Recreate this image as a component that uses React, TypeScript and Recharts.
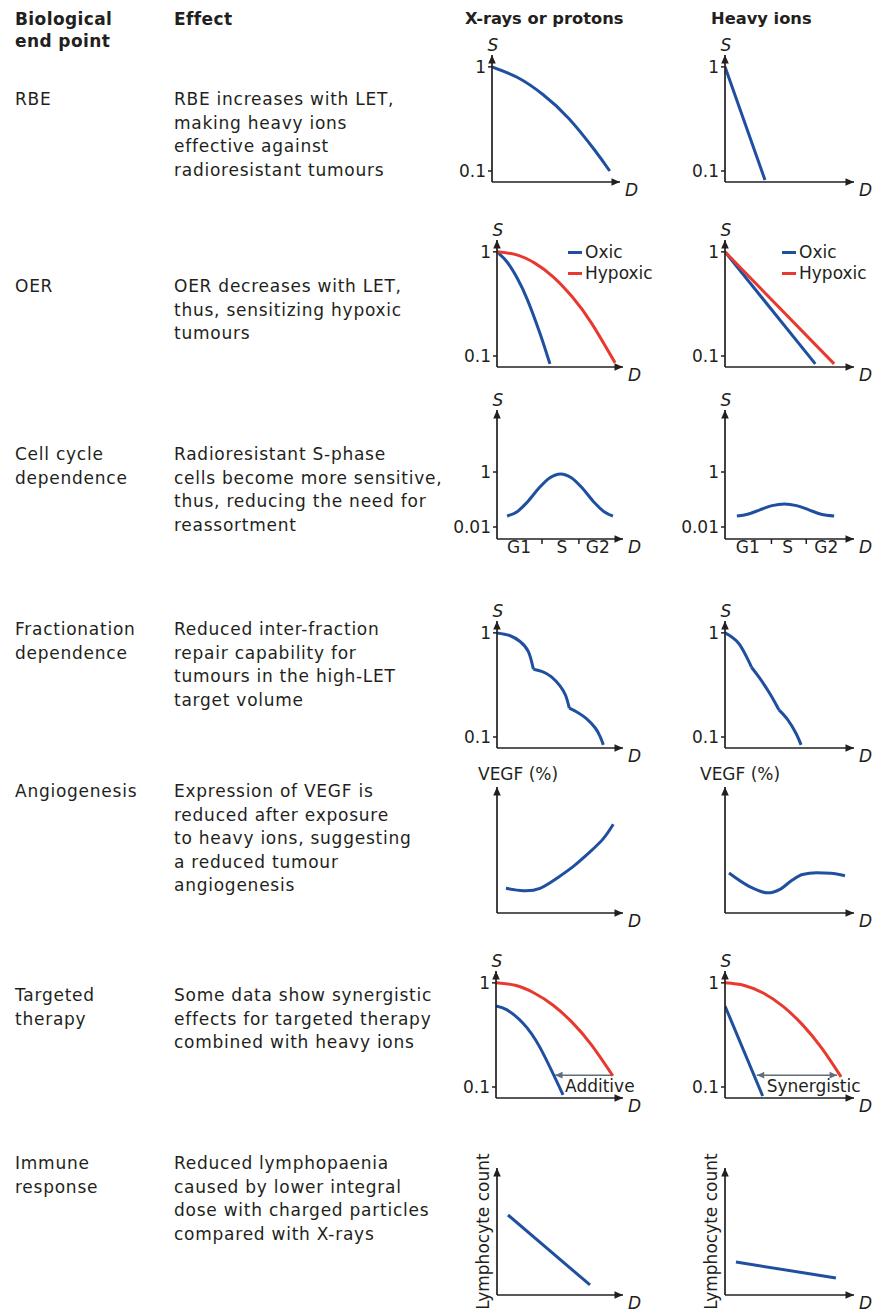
import React from 'react';
import { LineChart, Line, XAxis, YAxis, ReferenceDot, ReferenceLine, Legend } from 'recharts';

const INK = '#231f20';
const BLUE = '#1f4f9f';
const RED = '#e8392f';
const SLATE = '#5e6f7b';
const FONT = '"DejaVu Sans", Verdana, sans-serif';

// x = dose on a 0..10 axis (10 = arrow tip), s = surviving fraction / relative value
const rbeXray = [{ x: 0, s: 1 }, { x: 2, s: 0.79 }, { x: 4, s: 0.54 }, { x: 6, s: 0.32 }, { x: 8, s: 0.16 }, { x: 9.2, s: 0.1 }];
const rbeIon = [{ x: 0, s: 1 }, { x: 3.1, s: 0.082 }];

const oerXrayOxic = [{ x: 0, s: 1 }, { x: 0.8, s: 0.8 }, { x: 1.6, s: 0.56 }, { x: 2.4, s: 0.35 }, { x: 3.4, s: 0.166 }, { x: 4.2, s: 0.084 }];
const oerXrayHypoxic = [{ x: 0, s: 1 }, { x: 1.5, s: 0.94 }, { x: 3, s: 0.78 }, { x: 4.5, s: 0.57 }, { x: 6, s: 0.366 }, { x: 7.5, s: 0.207 }, { x: 9.37, s: 0.086 }];
const oerIonOxic = [{ x: 0, s: 1 }, { x: 7.0, s: 0.084 }];
const oerIonHypoxic = [{ x: 0, s: 1 }, { x: 8.46, s: 0.084 }];

const cellXray = [
  { x: 0.8, s: 0.025 }, { x: 1.6, s: 0.036 }, { x: 2.4, s: 0.08 }, { x: 3.3, s: 0.25 }, { x: 4.2, s: 0.62 },
  { x: 5.05, s: 0.85 }, { x: 5.9, s: 0.62 }, { x: 6.8, s: 0.25 }, { x: 7.7, s: 0.08 }, { x: 8.5, s: 0.036 }, { x: 9.2, s: 0.025 },
];
const cellIon = [
  { x: 0.92, s: 0.025 }, { x: 1.75, s: 0.029 }, { x: 2.7, s: 0.042 }, { x: 3.65, s: 0.06 }, { x: 4.6, s: 0.069 },
  { x: 5.55, s: 0.06 }, { x: 6.5, s: 0.042 }, { x: 7.45, s: 0.029 }, { x: 8.46, s: 0.025 },
];
const phaseNames = ['G1', 'S', 'G2'];
const xrayPhaseCentres = [1.75, 5.15, 8.0];
const xrayPhaseBounds = [3.57, 6.5];
const ionPhaseCentres = [1.77, 4.85, 7.85];
const ionPhaseBounds = [3.6, 6.3];

// fractionated survival: one scallop per fraction
const fracXray1 = [{ x: 0, s: 1 }, { x: 1.0, s: 0.944 }, { x: 1.83, s: 0.826 }, { x: 2.49, s: 0.66 }, { x: 2.89, s: 0.447 }];
const fracXray2 = [{ x: 2.89, s: 0.447 }, { x: 3.6, s: 0.425 }, { x: 4.3, s: 0.38 }, { x: 5.0, s: 0.31 }, { x: 5.45, s: 0.25 }, { x: 5.74, s: 0.189 }];
const fracXray3 = [{ x: 5.74, s: 0.189 }, { x: 6.4, s: 0.172 }, { x: 7.1, s: 0.15 }, { x: 7.8, s: 0.122 }, { x: 8.2, s: 0.1 }, { x: 8.44, s: 0.084 }];
const fracIon1 = [{ x: 0, s: 1 }, { x: 0.6, s: 0.9 }, { x: 1.15, s: 0.767 }, { x: 1.79, s: 0.55 }, { x: 2.05, s: 0.468 }];
const fracIon2 = [{ x: 2.05, s: 0.468 }, { x: 2.69, s: 0.367 }, { x: 3.46, s: 0.263 }, { x: 3.97, s: 0.204 }, { x: 4.18, s: 0.182 }];
const fracIon3 = [{ x: 4.18, s: 0.182 }, { x: 4.87, s: 0.146 }, { x: 5.51, s: 0.108 }, { x: 5.9, s: 0.084 }];

const vegfXray = [{ x: 0.71, s: 1.96 }, { x: 2.09, s: 1.77 }, { x: 3.41, s: 1.96 }, { x: 4.74, s: 2.75 }, { x: 6.06, s: 3.7 }, { x: 7.38, s: 4.85 }, { x: 8.44, s: 5.9 }, { x: 9.23, s: 7.04 }];
const vegfIon = [{ x: 0.31, s: 3.17 }, { x: 1.9, s: 2.1 }, { x: 3.3, s: 1.6 }, { x: 4.3, s: 1.9 }, { x: 5.2, s: 2.6 }, { x: 6.0, s: 3.05 }, { x: 7.1, s: 3.2 }, { x: 8.2, s: 3.15 }, { x: 9.3, s: 2.95 }];

const targXrayAlone = [{ x: 0, s: 1 }, { x: 1.5, s: 0.947 }, { x: 3, s: 0.8 }, { x: 4.5, s: 0.61 }, { x: 6, s: 0.417 }, { x: 7.5, s: 0.255 }, { x: 9.2, s: 0.128 }];
const targXrayDrug = [{ x: 0, s: 0.6 }, { x: 0.87, s: 0.55 }, { x: 2.13, s: 0.41 }, { x: 3.46, s: 0.24 }, { x: 5.28, s: 0.084 }];
const targIonAlone = [{ x: 0, s: 1 }, { x: 1.5, s: 0.944 }, { x: 3, s: 0.794 }, { x: 4.5, s: 0.594 }, { x: 6, s: 0.397 }, { x: 7.5, s: 0.236 }, { x: 9.0, s: 0.125 }];
const targIonDrug = [{ x: 0, s: 0.6 }, { x: 2.92, s: 0.082 }];

const lymphoXray = [{ x: 0.87, s: 6.3 }, { x: 7.38, s: 0.79 }];
const lymphoIon = [{ x: 0.85, s: 2.6 }, { x: 8.6, s: 1.34 }];

const survivalDomain: [number, number] = [0.0784, 1.3];
const survivalTicks = [0.1, 1];
const cellDomain: [number, number] = [0.00366, 180];
const cellTicks = [0.01, 1];
const linearDomain: [number, number] = [0, 10];

const endPoints = [['RBE'], ['OER'], ['Cell cycle', 'dependence'], ['Fractionation', 'dependence'], ['Angiogenesis'], ['Targeted', 'therapy'], ['Immune', 'response']];
const effects = [
  ['RBE increases with LET,', 'making heavy ions', 'effective against', 'radioresistant tumours'],
  ['OER decreases with LET,', 'thus, sensitizing hypoxic', 'tumours'],
  ['Radioresistant S-phase', 'cells become more sensitive,', 'thus, reducing the need for', 'reassortment'],
  ['Reduced inter-fraction', 'repair capability for', 'tumours in the high-LET', 'target volume'],
  ['Expression of VEGF is', 'reduced after exposure', 'to heavy ions, suggesting', 'a reduced tumour', 'angiogenesis'],
  ['Some data show synergistic', 'effects for targeted therapy', 'combined with heavy ions'],
  ['Reduced lymphopaenia', 'caused by lower integral', 'dose with charged particles', 'compared with X-rays'],
];
const rowBaselines = [106, 293, 461, 636, 798, 1002, 1170];

type Pt = { x: number; s: number };
type Curve = { name: string; color: string; data: Pt[]; kind?: 'natural' | 'monotone' };
type ChartSpec = {
  x0: number; x1: number; yTop: number; yBot: number;
  log: boolean; domain: [number, number]; yTicks?: number[];
  curves: Curve[];
  topLabel?: string; topDx?: number;
  sideLabel?: string;
  phases?: { centres: number[]; bounds: number[] };
  legendAt?: { left: number; top: number };
  span?: { from: number; to: number; s: number; label: string; bothHeads: boolean };
};

const charts: ChartSpec[] = [
  { x0: 492, x1: 620, yTop: 55, yBot: 182, log: true, domain: survivalDomain, yTicks: survivalTicks, topLabel: 'S', curves: [{ name: 'X-rays', color: BLUE, data: rbeXray }] },
  { x0: 725, x1: 854, yTop: 55, yBot: 182, log: true, domain: survivalDomain, yTicks: survivalTicks, topLabel: 'S', curves: [{ name: 'Heavy ions', color: BLUE, data: rbeIon }] },
  { x0: 497, x1: 623, yTop: 240, yBot: 367, log: true, domain: survivalDomain, yTicks: survivalTicks, topLabel: 'S', legendAt: { left: 131, top: 31.5 },
    curves: [{ name: 'Oxic', color: BLUE, data: oerXrayOxic }, { name: 'Hypoxic', color: RED, data: oerXrayHypoxic }] },
  { x0: 725, x1: 854, yTop: 240, yBot: 367, log: true, domain: survivalDomain, yTicks: survivalTicks, topLabel: 'S', legendAt: { left: 117, top: 31.5 },
    curves: [{ name: 'Oxic', color: BLUE, data: oerIonOxic }, { name: 'Hypoxic', color: RED, data: oerIonHypoxic }] },
  { x0: 497, x1: 623, yTop: 410, yBot: 539, log: true, domain: cellDomain, yTicks: cellTicks, topLabel: 'S', phases: { centres: xrayPhaseCentres, bounds: xrayPhaseBounds },
    curves: [{ name: 'X-rays', color: BLUE, data: cellXray, kind: 'monotone' }] },
  { x0: 725, x1: 854, yTop: 410, yBot: 539, log: true, domain: cellDomain, yTicks: cellTicks, topLabel: 'S', phases: { centres: ionPhaseCentres, bounds: ionPhaseBounds },
    curves: [{ name: 'Heavy ions', color: BLUE, data: cellIon, kind: 'monotone' }] },
  { x0: 497, x1: 623, yTop: 621, yBot: 748, log: true, domain: survivalDomain, yTicks: survivalTicks, topLabel: 'S',
    curves: [
      { name: 'Fraction 1', color: BLUE, data: fracXray1 },
      { name: 'Fraction 2', color: BLUE, data: fracXray2 },
      { name: 'Fraction 3', color: BLUE, data: fracXray3 },
    ] },
  { x0: 725, x1: 854, yTop: 621, yBot: 748, log: true, domain: survivalDomain, yTicks: survivalTicks, topLabel: 'S',
    curves: [
      { name: 'Fraction 1', color: BLUE, data: fracIon1 },
      { name: 'Fraction 2', color: BLUE, data: fracIon2 },
      { name: 'Fraction 3', color: BLUE, data: fracIon3 },
    ] },
  { x0: 497, x1: 623, yTop: 787, yBot: 913, log: false, domain: linearDomain, topLabel: 'VEGF (%)', topDx: -19, curves: [{ name: 'X-rays', color: BLUE, data: vegfXray }] },
  { x0: 725, x1: 854, yTop: 787, yBot: 913, log: false, domain: linearDomain, topLabel: 'VEGF (%)', topDx: -25, curves: [{ name: 'Heavy ions', color: BLUE, data: vegfIon, kind: 'monotone' }] },
  { x0: 496, x1: 623, yTop: 971, yBot: 1098, log: true, domain: survivalDomain, yTicks: survivalTicks, topLabel: 'S',
    span: { from: 4.65, to: 9.06, s: 0.13, label: 'Additive', bothHeads: false },
    curves: [{ name: 'Radiation', color: RED, data: targXrayAlone }, { name: 'Combined', color: BLUE, data: targXrayDrug }] },
  { x0: 725, x1: 854, yTop: 971, yBot: 1098, log: true, domain: survivalDomain, yTicks: survivalTicks, topLabel: 'S',
    span: { from: 2.46, to: 8.69, s: 0.13, label: 'Synergistic', bothHeads: true },
    curves: [{ name: 'Radiation', color: RED, data: targIonAlone }, { name: 'Combined', color: BLUE, data: targIonDrug }] },
  { x0: 497, x1: 623, yTop: 1168, yBot: 1295, log: false, domain: linearDomain, sideLabel: 'Lymphocyte count', curves: [{ name: 'X-rays', color: BLUE, data: lymphoXray }] },
  { x0: 725, x1: 854, yTop: 1168, yBot: 1295, log: false, domain: linearDomain, sideLabel: 'Lymphocyte count', curves: [{ name: 'Heavy ions', color: BLUE, data: lymphoIon }] },
];

const ML = 60;
const MR = 24;
const MT = 30;
const MB = 26;

function MiniChart({ spec }: { spec: ChartSpec }) {
  const w = spec.x1 - spec.x0 + ML + MR;
  const h = spec.yBot - spec.yTop + MT + MB;
  const [yMin, yMax] = spec.domain;
  const textStyle = { fontFamily: FONT, fontSize: 17, fill: INK };
  const order = spec.curves.map((c) => c.name);

  const upArrow = (props: any) => {
    const { cx, cy } = props;
    const isS = spec.topLabel === 'S';
    return (
      <g>
        <polygon points={`${cx},${cy} ${cx - 3.8},${cy + 8.5} ${cx + 3.8},${cy + 8.5}`} fill={INK} />
        {spec.topLabel && (
          <text x={cx + (isS ? 1 : spec.topDx || 0)} y={cy - (isS ? 4 : 7)} textAnchor={isS ? 'middle' : 'start'}
            fontStyle={isS ? 'italic' : 'normal'} {...textStyle}>{spec.topLabel}</text>
        )}
      </g>
    );
  };
  const rightArrow = (props: any) => {
    const { cx, cy } = props;
    return (
      <g>
        <polygon points={`${cx},${cy} ${cx - 8.5},${cy - 3.8} ${cx - 8.5},${cy + 3.8}`} fill={INK} />
        <text x={cx + 5} y={cy + 13.5} fontStyle="italic" {...textStyle}>D</text>
      </g>
    );
  };
  const spanHead = (dir: number, label?: string) => (props: any) => {
    const { cx, cy } = props;
    return (
      <g>
        <polygon points={`${cx},${cy} ${cx + dir * 7.5},${cy - 3.3} ${cx + dir * 7.5},${cy + 3.3}`} fill={SLATE} />
        {label && <text x={cx + 10} y={cy + 17} {...textStyle}>{label}</text>}
      </g>
    );
  };
  const phaseTick = (props: any) => {
    const { x, y, payload } = props;
    const ph = spec.phases!;
    const i = ph.centres.indexOf(payload.value);
    if (i >= 0) {
      return <text x={x} y={y + 14} textAnchor="middle" {...textStyle}>{phaseNames[i]}</text>;
    }
    return <line x1={x} y1={y} x2={x} y2={y + 5} stroke={INK} strokeWidth={1.5} />;
  };
  const xTicks = spec.phases ? [...spec.phases.centres, ...spec.phases.bounds].sort((a, b) => a - b) : [];

  return (
    <div style={{ position: 'absolute', left: spec.x0 - ML, top: spec.yTop - MT }}>
      <LineChart width={w} height={h} margin={{ top: MT, right: MR, bottom: 0, left: 0 }}>
        <XAxis type="number" dataKey="x" domain={[0, 10]} allowDataOverflow height={MB}
          axisLine={{ stroke: INK, strokeWidth: 1.7 }} ticks={xTicks} interval={0}
          tick={spec.phases ? phaseTick : false} tickLine={false} tickSize={0} tickMargin={0} />
        <YAxis type="number" scale={spec.log ? 'log' : 'linear'} domain={spec.domain} allowDataOverflow width={ML}
          ticks={spec.yTicks || []} interval={0}
          tick={spec.yTicks ? { ...textStyle } : false}
          tickLine={spec.yTicks ? { stroke: INK, strokeWidth: 1.5 } : false}
          tickSize={4} tickMargin={2} tickFormatter={(v: number) => String(v)}
          axisLine={{ stroke: INK, strokeWidth: 1.7 }}
          label={spec.sideLabel ? {
            value: spec.sideLabel, angle: -90, position: 'insideLeft', offset: ML - 14,
            style: { textAnchor: 'middle', fontFamily: FONT, fontSize: 17, fill: INK },
          } : undefined} />
        {spec.curves.map((c) => (
          <Line key={c.name} name={c.name} data={c.data} dataKey="s" type={c.kind || 'natural'} stroke={c.color}
            strokeWidth={3} dot={false} activeDot={false} isAnimationActive={false} />
        ))}
        {spec.span && (
          <ReferenceLine segment={[{ x: spec.span.from, y: spec.span.s }, { x: spec.span.to, y: spec.span.s }]}
            stroke={SLATE} strokeWidth={1.5} ifOverflow="visible" />
        )}
        {spec.span && (
          <ReferenceDot x={spec.span.from} y={spec.span.s} r={0} ifOverflow="visible" shape={spanHead(1, spec.span.label)} />
        )}
        {spec.span && spec.span.bothHeads && (
          <ReferenceDot x={spec.span.to} y={spec.span.s} r={0} ifOverflow="visible" shape={spanHead(-1)} />
        )}
        <ReferenceDot x={0} y={yMax} r={0} ifOverflow="visible" shape={upArrow} />
        <ReferenceDot x={10} y={yMin} r={0} ifOverflow="visible" shape={rightArrow} />
        {spec.legendAt && (
          <Legend layout="vertical" align="center" verticalAlign="middle"
            wrapperStyle={{ left: spec.legendAt.left, top: spec.legendAt.top, width: 'auto' }}
            content={(props: any) => {
              const items = [...(props.payload || [])].sort((a: any, b: any) => order.indexOf(a.value) - order.indexOf(b.value));
              return (
                <div>
                  {items.map((e: any) => (
                    <div key={e.value} style={{ display: 'flex', alignItems: 'center', height: 21, fontFamily: FONT, fontSize: 17, color: INK }}>
                      <span style={{ display: 'inline-block', width: 14, height: 3, background: e.color, marginRight: 3 }} />
                      {e.value}
                    </div>
                  ))}
                </div>
              );
            }} />
        )}
      </LineChart>
    </div>
  );
}

const bodyText: React.CSSProperties = {
  position: 'absolute',
  fontFamily: FONT,
  fontSize: 17,
  lineHeight: '23.5px',
  letterSpacing: 0.75,
  color: INK,
  whiteSpace: 'nowrap',
};

const headText: React.CSSProperties = {
  position: 'absolute',
  fontFamily: FONT,
  fontSize: 17,
  fontWeight: 700,
  lineHeight: '22px',
  color: INK,
  whiteSpace: 'nowrap',
};

export default function App() {
  return (
    <div style={{ position: 'absolute', left: 0, top: 0, width: 872, height: 1312, background: '#fff', overflow: 'hidden' }}>
      <div style={{ ...headText, left: 15, top: 8, letterSpacing: 0.4 }}>Biological<br />end point</div>
      <div style={{ ...headText, left: 174, top: 8, letterSpacing: 0.4 }}>Effect</div>
      <div style={{ ...headText, left: 465, top: 8, fontSize: 16.3 }}>X-rays or protons</div>
      <div style={{ ...headText, left: 711, top: 8, fontSize: 16.3 }}>Heavy ions</div>
      {endPoints.map((lines, i) => (
        <div key={'ep' + i} style={{ ...bodyText, left: 15, top: rowBaselines[i] - 17.6 }}>
          {lines.map((l) => <div key={l}>{l}</div>)}
        </div>
      ))}
      {effects.map((lines, i) => (
        <div key={'ef' + i} style={{ ...bodyText, left: 174, top: rowBaselines[i] - 17.6 }}>
          {lines.map((l) => <div key={l}>{l}</div>)}
        </div>
      ))}
      {charts.map((c, i) => <MiniChart key={i} spec={c} />)}
    </div>
  );
}
